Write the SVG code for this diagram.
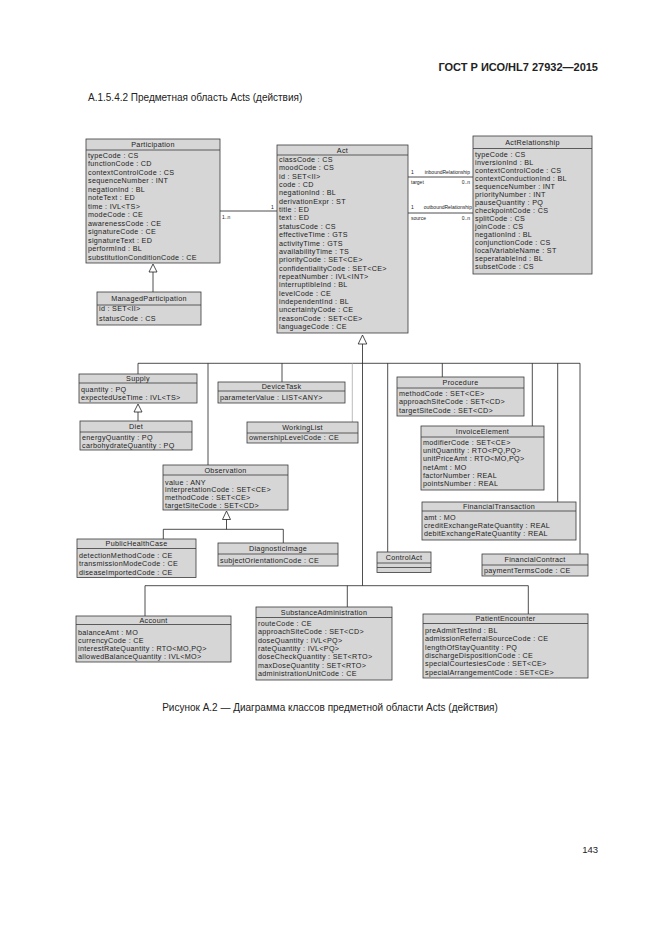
<svg xmlns="http://www.w3.org/2000/svg" width="661" height="935" viewBox="0 0 661 935">
<style>
.bx{fill:#d6d6d6;stroke:#3a3a3a;stroke-width:0.8}
.sp{stroke:#3a3a3a;stroke-width:0.8}
.t{font-family:"Liberation Sans",Arial,sans-serif;font-size:7.2px;letter-spacing:0.3px;fill:#222}
.h{text-anchor:middle}
.ln{stroke:#222;stroke-width:0.8;fill:none}
.gr{stroke:#aaa;stroke-width:0.8;fill:none}
.tri{fill:#fff;stroke:#222;stroke-width:0.8}
.lb{font-family:"Liberation Sans",Arial,sans-serif;font-size:5px;fill:#222}
.pg{font-family:"Liberation Sans",Arial,sans-serif;fill:#222}
</style>
<rect width="661" height="935" fill="#fff"/>
<text class="pg" x="598" y="71" font-size="11" font-weight="bold" text-anchor="end">ГОСТ Р ИСО/HL7 27932—2015</text>
<text class="pg" x="88" y="101" font-size="10">А.1.5.4.2 Предметная область Acts (действия)</text>
<text class="pg" x="330" y="711" font-size="10" text-anchor="middle">Рисунок А.2 — Диаграмма классов предметной области Acts (действия)</text>
<text class="pg" x="598" y="853" font-size="9.5" text-anchor="end">143</text>

<g id="connectors">
<line class="ln" x1="220" y1="211" x2="277" y2="211"/>
<text class="lb" x="222" y="219">1..n</text>
<text class="lb" x="271" y="209">1</text>
<line class="ln" x1="408" y1="177" x2="473" y2="177"/>
<text class="lb" x="411" y="174">1</text>
<text class="lb" x="470" y="174" text-anchor="end">inboundRelationship</text>
<text class="lb" x="411" y="184">target</text>
<text class="lb" x="470" y="184" text-anchor="end">0..n</text>
<line class="ln" x1="408" y1="213" x2="473" y2="213"/>
<text class="lb" x="411" y="209">1</text>
<text class="lb" x="472" y="209" text-anchor="end">outboundRelationship</text>
<text class="lb" x="411" y="220">source</text>
<text class="lb" x="470" y="220" text-anchor="end">0..n</text>
<polygon class="tri" points="153,264 149,272 157,272"/>
<line class="ln" x1="153" y1="272" x2="153" y2="292"/>
<polygon class="tri" points="362.5,335 358.2,344 366.8,344"/>
<line class="ln" x1="362.5" y1="344" x2="362.5" y2="585.7"/>
<line class="ln" x1="138" y1="363.3" x2="580" y2="363.3"/>
<line class="ln" x1="138" y1="363.3" x2="138" y2="374"/>
<line class="ln" x1="208" y1="363.3" x2="208" y2="465"/>
<line class="ln" x1="282" y1="363.3" x2="282" y2="382"/>
<line class="gr" x1="352.3" y1="363.3" x2="352.3" y2="422"/>
<line class="ln" x1="387.7" y1="363.3" x2="387.7" y2="552"/>
<line class="ln" x1="442.3" y1="363.3" x2="442.3" y2="377"/>
<line class="ln" x1="532.3" y1="363.3" x2="532.3" y2="426"/>
<line class="ln" x1="557.7" y1="363.3" x2="557.7" y2="502"/>
<line class="ln" x1="580" y1="363.3" x2="580" y2="554"/>
<polygon class="tri" points="138,404 134,412 142,412"/>
<line class="ln" x1="138" y1="412" x2="138" y2="421"/>
<polygon class="tri" points="226.5,511 222.5,519.5 230.5,519.5"/>
<line class="ln" x1="226.5" y1="519.5" x2="226.5" y2="529.3"/>
<line class="ln" x1="163.3" y1="529.3" x2="283.3" y2="529.3"/>
<line class="ln" x1="163.3" y1="529.3" x2="163.3" y2="539"/>
<line class="ln" x1="283.3" y1="529.3" x2="283.3" y2="543"/>
<line class="ln" x1="145" y1="585.7" x2="528.3" y2="585.7"/>
<line class="ln" x1="145" y1="585.7" x2="145" y2="616"/>
<line class="ln" x1="347.3" y1="585.7" x2="347.3" y2="607"/>
<line class="ln" x1="528.3" y1="585.7" x2="528.3" y2="614"/>
</g>

<g id="Participation">
<rect class="bx" x="86" y="139" width="134" height="124"/>
<line class="sp" x1="86" y1="150" x2="220" y2="150"/>
<text class="t h" x="153" y="147.3">Participation</text>
<text class="t" x="88">
<tspan x="88" y="157.5">typeCode : CS</tspan>
<tspan x="88" y="166">functionCode : CD</tspan>
<tspan x="88" y="174.5">contextControlCode : CS</tspan>
<tspan x="88" y="183">sequenceNumber : INT</tspan>
<tspan x="88" y="191.5">negationInd : BL</tspan>
<tspan x="88" y="200">noteText : ED</tspan>
<tspan x="88" y="208.5">time : IVL&lt;TS&gt;</tspan>
<tspan x="88" y="217">modeCode : CE</tspan>
<tspan x="88" y="225.5">awarenessCode : CE</tspan>
<tspan x="88" y="234">signatureCode : CE</tspan>
<tspan x="88" y="242.5">signatureText : ED</tspan>
<tspan x="88" y="251">performInd : BL</tspan>
<tspan x="88" y="259.5">substitutionConditionCode : CE</tspan>
</text>
</g>

<g id="ManagedParticipation">
<rect class="bx" x="97" y="292" width="104" height="33"/>
<line class="sp" x1="97" y1="305" x2="201" y2="305"/>
<text class="t h" x="149" y="301">ManagedParticipation</text>
<text class="t"><tspan x="99" y="311">id : SET&lt;II&gt;</tspan><tspan x="99" y="320.5">statusCode : CS</tspan></text>
</g>

<g id="Act">
<rect class="bx" x="277" y="145" width="131" height="188"/>
<line class="sp" x1="277" y1="155" x2="408" y2="155"/>
<text class="t h" x="342.5" y="152.5">Act</text>
<text class="t">
<tspan x="279" y="162">classCode : CS</tspan>
<tspan x="279" y="170.35">moodCode : CS</tspan>
<tspan x="279" y="178.7">id : SET&lt;II&gt;</tspan>
<tspan x="279" y="187.05">code : CD</tspan>
<tspan x="279" y="195.4">negationInd : BL</tspan>
<tspan x="279" y="203.75">derivationExpr : ST</tspan>
<tspan x="279" y="212.1">title : ED</tspan>
<tspan x="279" y="220.45">text : ED</tspan>
<tspan x="279" y="228.8">statusCode : CS</tspan>
<tspan x="279" y="237.15">effectiveTime : GTS</tspan>
<tspan x="279" y="245.5">activityTime : GTS</tspan>
<tspan x="279" y="253.85">availabilityTime : TS</tspan>
<tspan x="279" y="262.2">priorityCode : SET&lt;CE&gt;</tspan>
<tspan x="279" y="270.55">confidentialityCode : SET&lt;CE&gt;</tspan>
<tspan x="279" y="278.9">repeatNumber : IVL&lt;INT&gt;</tspan>
<tspan x="279" y="287.25">interruptibleInd : BL</tspan>
<tspan x="279" y="295.6">levelCode : CE</tspan>
<tspan x="279" y="303.95">independentInd : BL</tspan>
<tspan x="279" y="312.3">uncertaintyCode : CE</tspan>
<tspan x="279" y="320.65">reasonCode : SET&lt;CE&gt;</tspan>
<tspan x="279" y="329">languageCode : CE</tspan>
</text>
</g>

<g id="ActRelationship">
<rect class="bx" x="473" y="136" width="119" height="138"/>
<line class="sp" x1="473" y1="148.5" x2="592" y2="148.5"/>
<text class="t h" x="532.5" y="145">ActRelationship</text>
<text class="t">
<tspan x="475" y="156.5">typeCode : CS</tspan>
<tspan x="475" y="164.5">inversionInd : BL</tspan>
<tspan x="475" y="172.6">contextControlCode : CS</tspan>
<tspan x="475" y="180.6">contextConductionInd : BL</tspan>
<tspan x="475" y="188.7">sequenceNumber : INT</tspan>
<tspan x="475" y="196.7">priorityNumber : INT</tspan>
<tspan x="475" y="204.7">pauseQuantity : PQ</tspan>
<tspan x="475" y="212.8">checkpointCode : CS</tspan>
<tspan x="475" y="220.8">splitCode : CS</tspan>
<tspan x="475" y="228.9">joinCode : CS</tspan>
<tspan x="475" y="236.9">negationInd : BL</tspan>
<tspan x="475" y="244.9">conjunctionCode : CS</tspan>
<tspan x="475" y="253">localVariableName : ST</tspan>
<tspan x="475" y="261">seperatableInd : BL</tspan>
<tspan x="475" y="269.1">subsetCode : CS</tspan>
</text>
</g>

<g id="Supply">
<rect class="bx" x="79" y="374" width="118" height="29"/>
<line class="sp" x1="79" y1="383" x2="197" y2="383"/>
<text class="t h" x="138" y="380.8">Supply</text>
<text class="t"><tspan x="81" y="391.5">quantity : PQ</tspan><tspan x="81" y="399.5">expectedUseTime : IVL&lt;TS&gt;</tspan></text>
</g>

<g id="Diet">
<rect class="bx" x="80" y="421" width="112" height="29"/>
<line class="sp" x1="80" y1="432" x2="192" y2="432"/>
<text class="t h" x="136" y="429">Diet</text>
<text class="t"><tspan x="82" y="440">energyQuantity : PQ</tspan><tspan x="82" y="447.5">carbohydrateQuantity : PQ</tspan></text>
</g>

<g id="DeviceTask">
<rect class="bx" x="218" y="382" width="127" height="21"/>
<line class="sp" x1="218" y1="391" x2="345" y2="391"/>
<text class="t h" x="281.5" y="389">DeviceTask</text>
<text class="t" x="220" y="399.8">parameterValue : LIST&lt;ANY&gt;</text>
</g>

<g id="WorkingList">
<rect class="bx" x="247" y="422" width="111" height="21"/>
<line class="sp" x1="247" y1="433" x2="358" y2="433"/>
<text class="t h" x="302.5" y="430">WorkingList</text>
<text class="t" x="249" y="440.3">ownershipLevelCode : CE</text>
</g>

<g id="Procedure">
<rect class="bx" x="397" y="377" width="127" height="39"/>
<line class="sp" x1="397" y1="388" x2="524" y2="388"/>
<text class="t h" x="460.5" y="385.3">Procedure</text>
<text class="t"><tspan x="399" y="396">methodCode : SET&lt;CE&gt;</tspan><tspan x="399" y="404.3">approachSiteCode : SET&lt;CD&gt;</tspan><tspan x="399" y="412.6">targetSiteCode : SET&lt;CD&gt;</tspan></text>
</g>

<g id="InvoiceElement">
<rect class="bx" x="421" y="426" width="123" height="64"/>
<line class="sp" x1="421" y1="437" x2="544" y2="437"/>
<text class="t h" x="482.5" y="434">InvoiceElement</text>
<text class="t">
<tspan x="423" y="444.8">modifierCode : SET&lt;CE&gt;</tspan>
<tspan x="423" y="453">unitQuantity : RTO&lt;PQ,PQ&gt;</tspan>
<tspan x="423" y="461.3">unitPriceAmt : RTO&lt;MO,PQ&gt;</tspan>
<tspan x="423" y="469.5">netAmt : MO</tspan>
<tspan x="423" y="478">factorNumber : REAL</tspan>
<tspan x="423" y="486.4">pointsNumber : REAL</tspan>
</text>
</g>

<g id="FinancialTransaction">
<rect class="bx" x="422" y="502" width="154" height="38"/>
<line class="sp" x1="422" y1="511" x2="576" y2="511"/>
<text class="t h" x="499" y="509">FinancialTransaction</text>
<text class="t"><tspan x="424" y="519.8">amt : MO</tspan><tspan x="424" y="527.8">creditExchangeRateQuantity : REAL</tspan><tspan x="424" y="535.8">debitExchangeRateQuantity : REAL</tspan></text>
</g>

<g id="ControlAct">
<rect class="bx" x="377" y="552" width="54" height="20.5"/>
<line class="sp" x1="377" y1="563" x2="431" y2="563"/>
<line class="sp" x1="377" y1="567.5" x2="431" y2="567.5"/>
<text class="t h" x="404" y="560.3">ControlAct</text>
</g>

<g id="FinancialContract">
<rect class="bx" x="482" y="554" width="106" height="22"/>
<line class="sp" x1="482" y1="565" x2="588" y2="565"/>
<text class="t h" x="535" y="562.3">FinancialContract</text>
<text class="t" x="484" y="572.8">paymentTermsCode : CE</text>
</g>

<g id="Observation">
<rect class="bx" x="163" y="465" width="125" height="45"/>
<line class="sp" x1="163" y1="475" x2="288" y2="475"/>
<text class="t h" x="225.5" y="472.5">Observation</text>
<text class="t"><tspan x="165" y="484.5">value : ANY</tspan><tspan x="165" y="492.3">interpretationCode : SET&lt;CE&gt;</tspan><tspan x="165" y="500.1">methodCode : SET&lt;CE&gt;</tspan><tspan x="165" y="507.9">targetSiteCode : SET&lt;CD&gt;</tspan></text>
</g>

<g id="PublicHealthCase">
<rect class="bx" x="77" y="539" width="119" height="38.5"/>
<line class="sp" x1="77" y1="548.5" x2="196" y2="548.5"/>
<text class="t h" x="136.5" y="546.2">PublicHealthCase</text>
<text class="t"><tspan x="79" y="557.5">detectionMethodCode : CE</tspan><tspan x="79" y="566.2">transmissionModeCode : CE</tspan><tspan x="79" y="574.8">diseaseImportedCode : CE</tspan></text>
</g>

<g id="DiagnosticImage">
<rect class="bx" x="218" y="543" width="120" height="23"/>
<line class="sp" x1="218" y1="554" x2="338" y2="554"/>
<text class="t h" x="278" y="551.2">DiagnosticImage</text>
<text class="t" x="220" y="562.5">subjectOrientationCode : CE</text>
</g>

<g id="Account">
<rect class="bx" x="76" y="616" width="155" height="46"/>
<line class="sp" x1="76" y1="624.5" x2="231" y2="624.5"/>
<text class="t h" x="153.5" y="622.5">Account</text>
<text class="t"><tspan x="78" y="634.5">balanceAmt : MO</tspan><tspan x="78" y="642.5">currencyCode : CE</tspan><tspan x="78" y="650.5">interestRateQuantity : RTO&lt;MO,PQ&gt;</tspan><tspan x="78" y="658.5">allowedBalanceQuantity : IVL&lt;MO&gt;</tspan></text>
</g>

<g id="SubstanceAdministration">
<rect class="bx" x="256" y="607" width="136" height="73"/>
<line class="sp" x1="256" y1="617.5" x2="392" y2="617.5"/>
<text class="t h" x="324" y="615">SubstanceAdministration</text>
<text class="t">
<tspan x="258" y="625.8">routeCode : CE</tspan>
<tspan x="258" y="634.2">approachSiteCode : SET&lt;CD&gt;</tspan>
<tspan x="258" y="642.6">doseQuantity : IVL&lt;PQ&gt;</tspan>
<tspan x="258" y="651">rateQuantity : IVL&lt;PQ&gt;</tspan>
<tspan x="258" y="659.4">doseCheckQuantity : SET&lt;RTO&gt;</tspan>
<tspan x="258" y="667.8">maxDoseQuantity : SET&lt;RTO&gt;</tspan>
<tspan x="258" y="676.2">administrationUnitCode : CE</tspan>
</text>
</g>

<g id="PatientEncounter">
<rect class="bx" x="423" y="614" width="165" height="64"/>
<line class="sp" x1="423" y1="623.5" x2="588" y2="623.5"/>
<text class="t h" x="505.5" y="621.3">PatientEncounter</text>
<text class="t">
<tspan x="425" y="633">preAdmitTestInd : BL</tspan>
<tspan x="425" y="641.3">admissionReferralSourceCode : CE</tspan>
<tspan x="425" y="649.6">lengthOfStayQuantity : PQ</tspan>
<tspan x="425" y="657.9">dischargeDispositionCode : CE</tspan>
<tspan x="425" y="666.2">specialCourtesiesCode : SET&lt;CE&gt;</tspan>
<tspan x="425" y="674.5">specialArrangementCode : SET&lt;CE&gt;</tspan>
</text>
</g>
</svg>
